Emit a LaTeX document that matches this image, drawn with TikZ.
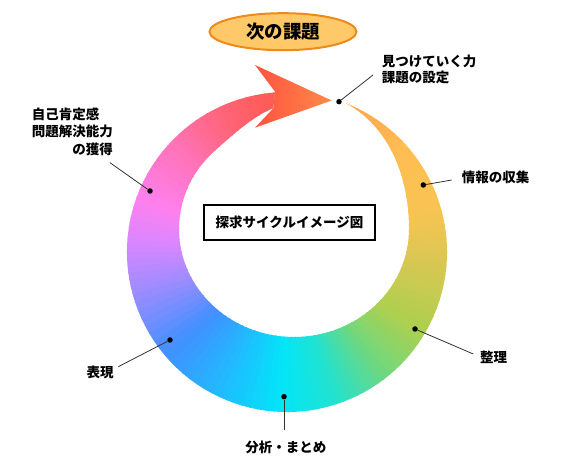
\documentclass[tikz,border=0pt]{standalone}
\usepackage{fontspec}
\setmainfont{Noto Sans CJK JP}
\usepackage{xcolor}
\usepackage{tikz}
\usetikzlibrary{calc,shapes.geometric}
\definecolor{g1}{HTML}{FFA050}
\definecolor{g2}{HTML}{FFBE52}
\definecolor{g3}{HTML}{F6C453}
\definecolor{g4}{HTML}{D8C752}
\definecolor{g5}{HTML}{AED04F}
\definecolor{g6}{HTML}{74D77A}
\definecolor{g7}{HTML}{22E2D0}
\definecolor{g8}{HTML}{02E6F8}
\definecolor{g9}{HTML}{20BCFF}
\definecolor{g10}{HTML}{4090FF}
\definecolor{g11}{HTML}{9C8CFF}
\definecolor{g12}{HTML}{DC86FF}
\definecolor{g13}{HTML}{FF80EE}
\definecolor{g14}{HTML}{FF72B4}
\definecolor{g15}{HTML}{FF6478}
\definecolor{g16}{HTML}{FF5848}
\definecolor{arrowred}{HTML}{FF5240}
\definecolor{arroworange}{HTML}{FF8A48}
\definecolor{titlefill}{HTML}{FFC868}
\definecolor{titleline}{HTML}{EE8A1A}

\begin{document}
\begin{tikzpicture}[x=1pt,y=1pt,
  dot/.style={circle,fill=black,inner sep=0pt,minimum size=5.5pt},
  lbl/.style={inner sep=0pt,font=\bfseries\fontsize{13.5}{16}\selectfont},
  leader/.style={draw=black!80,line width=0.8pt}]

\useasboundingbox (0,-462) rectangle (566,0);

% centres of outer circle and inner hole
\coordinate (O) at (287,-252);
\coordinate (I) at (294,-229);

% Ring with rainbow colours (clipped wedges)
\begin{scope}
\clip ($(O)+(68.4:160)$) arc[start angle=68.4, end angle=-265.7, radius=160]
  -- (273.3,-108.3) .. controls (255,-115) and (233.7,-133.9) .. ($(I)+(133.4:115 and 108)$)
  arc[start angle=133.4, end angle=360, x radius=115, y radius=108]
  .. controls (409,-175) and (388,-126) .. ($(O)+(68.4:160)$) -- cycle;
\foreach \aa/\ab/\ca/\cb in {72/40/g1/g2, 40/15/g2/g3, 15/-5/g3/g4, -5/-30/g4/g5,
  -30/-50/g5/g6, -50/-72/g6/g7, -72/-92/g7/g8, -92/-115/g8/g9, -115/-140/g9/g10,
  -140/-165/g10/g11, -165/-185/g11/g12, -185/-200/g12/g13, -200/-225/g13/g14,
  -225/-245/g14/g15, -245/-272/g15/g16}{
  \foreach \k in {0,...,7}{
    \pgfmathsetmacro\s{\aa+(\ab-\aa)*\k/8}
    \pgfmathsetmacro\e{\aa+(\ab-\aa)*(\k+1)/8}
    \pgfmathtruncatemacro\p{(\k+0.5)*100/8}
    \path[fill=\cb!\p!\ca, draw=\cb!\p!\ca, line width=0.8pt]
      (O) -- ($(O)+(\s:175)$) arc[start angle=\s, end angle=\e, radius=175] -- cycle;
  }
}
\end{scope}

% Arrow head
\shade[left color=arrowred, right color=arroworange]
  (331.7,-100.5) -- (255,-65) -- (275,-91.7) -- (273.3,-108.3) -- (255,-127.7) -- cycle;

% Title
\node[ellipse, draw=titleline, line width=2pt, fill=titlefill, minimum width=147,
  minimum height=37, inner sep=0pt, font=\bfseries\fontsize{18.5}{20}\selectfont]
  (title) at (283,-31.7) {次の課題};

% Centre box
\node[draw, line width=1.3pt, minimum width=171, minimum height=35, inner sep=0pt,
  font=\bfseries\fontsize{13.5}{16}\selectfont] (cycle) at (289.5,-222.5) {探求サイクルイメージ図};

% Dots on the ring
\node[dot] (d1) at (339,-101.7) {};
\node[dot] (d2) at (423.3,-185) {};
\node[dot] (d3) at (415,-329) {};
\node[dot] (d4) at (284,-396.7) {};
\node[dot] (d5) at (170,-340) {};
\node[dot] (d6) at (150,-191) {};

% Ends of leader lines
\coordinate (e1) at (373,-75);
\coordinate (e2) at (451.7,-180);
\coordinate (e3) at (473.3,-354);
\coordinate (e4) at (284,-430);
\coordinate (e5) at (118.3,-366.7);
\coordinate (e6) at (110,-162.7);

% Labels
\node[lbl, anchor=west, align=left] (l1) at (381.7,-69.5) {見つけていく力\\課題の設定};
\node[lbl, anchor=west] (l2) at (461.7,-177.3) {情報の収集};
\node[lbl, anchor=west] (l3) at (480,-357.3) {整理};
\node[lbl] (l4) at (285.8,-447.3) {分析・まとめ};
\node[lbl] (l5) at (100,-372.3) {表現};
\node[lbl, anchor=west, font=\bfseries\fontsize{13.5}{17.5}\selectfont] (l6) at (31.7,-133.3)
  {\begin{tabular}{@{}l@{}}自己肯定感\\問題解決能力\\\hfill の獲得\end{tabular}};

% Leader lines
\foreach \i in {1,...,6}
  \draw[leader] (d\i) -- (e\i);

\end{tikzpicture}
\end{document}
